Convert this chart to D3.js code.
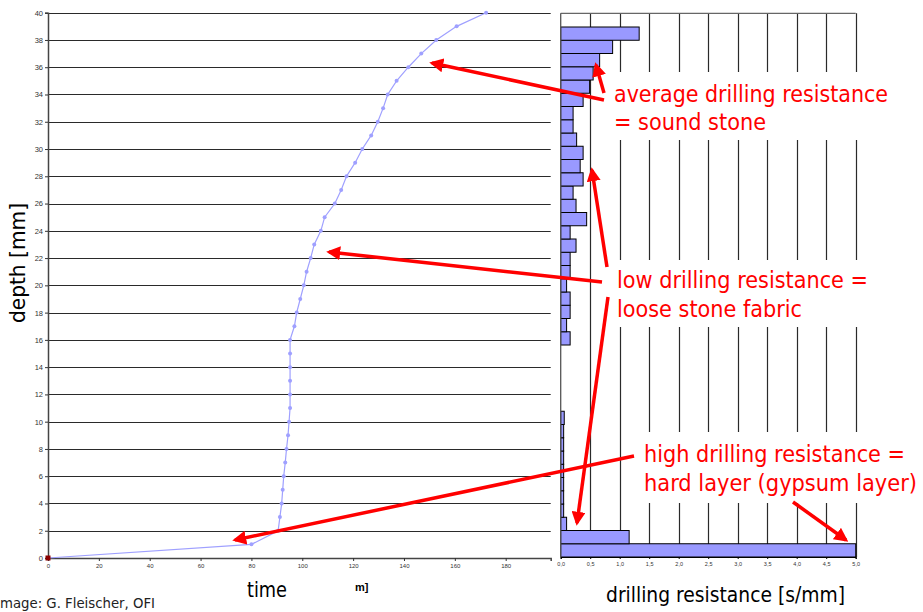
<!DOCTYPE html>
<html>
<head>
<meta charset="utf-8">
<script src="https://cdn.jsdelivr.net/npm/d3@7"></script>
<style>
  body { margin: 0; background: #fff; }
  svg { display: block; }
</style>
</head>
<body>
<div id="chart"></div>
<script>
// drilling time vs depth (left panel)
const lineDepth = [0, 1, 2, 3, 4, 5, 6, 7, 8, 9, 10, 11, 12, 13, 14, 15, 16, 17, 18, 19, 20,
  21, 22, 23, 24, 25, 26, 27, 28, 29, 30, 31, 32, 33, 34, 35, 36, 37, 38, 39, 40];
const lineTime = [0, 80, 90.5, 91.2, 91.9, 92.3, 92.7, 93.3, 93.8, 94.4, 94.8, 95.2, 95.2, 95.2,
  95.2, 95.2, 95.2, 96.9, 97.8, 99.2, 100.6, 101.7, 103.3, 104.7, 107.3, 108.8, 112.8, 115.3,
  117.4, 120.8, 123.6, 127.1, 129.7, 131.8, 133.6, 137.1, 141.7, 146.8, 152.7, 160.7, 172.3];

// drilling resistance per 1 mm bin (right panel), bin 0 = bottom
const barBins = [0, 1, 2, 3, 4, 5, 6, 7, 8, 9, 10, 11, 12, 13, 14, 15, 16, 17, 18, 19,
  20, 21, 22, 23, 24, 25, 26, 27, 28, 29, 30, 31, 32, 33, 34, 35, 36, 37, 38, 39];
const barValues = [5.0, 1.16, 0.10, 0.05, 0.05, 0.05, 0.05, 0.05, 0.05, 0.05, 0.06, 0, 0, 0, 0, 0,
  0.16, 0.10, 0.16, 0.16, 0.10, 0.16, 0.16, 0.26, 0.16, 0.44, 0.26, 0.21, 0.38, 0.33,
  0.38, 0.27, 0.21, 0.21, 0.38, 0.49, 0.55, 0.66, 0.88, 1.33];

const depthTicks = [0, 2, 4, 6, 8, 10, 12, 14, 16, 18, 20, 22, 24, 26, 28, 30, 32, 34, 36, 38, 40];
const timeTicks = [0, 20, 40, 60, 80, 100, 120, 140, 160, 180];
const resTicks = [0, 0.5, 1, 1.5, 2, 2.5, 3, 3.5, 4, 4.5, 5];

const notes = [
  ["average drilling resistance", "= sound stone"],
  ["low drilling resistance =", "loose stone fabric"],
  ["high drilling resistance =", "hard layer (gypsum layer)"]
];

const W = 923, H = 612;
const svg = d3.select("#chart").append("svg").attr("width", W).attr("height", H);

const y = d3.scaleLinear().domain([0, 40]).range([558, 12.7]);
const x = d3.scaleLinear().domain([0, 197.7]).range([48, 550.7]);
const xr = d3.scaleLinear().domain([0, 5]).range([560.7, 855.7]);
const yb = d3.scaleBand().domain(barBins).range([557, 27]).padding(0);

const gridCol = "#2a2a2a";
const tickFont = "'Liberation Sans', Arial, sans-serif";

// left panel grid
svg.append("g")
  .selectAll("line")
  .data(depthTicks)
  .join("line")
  .attr("x1", x(0)).attr("x2", x.range()[1])
  .attr("y1", (d) => Math.round(y(d)) + 0.5).attr("y2", (d) => Math.round(y(d)) + 0.5)
  .attr("stroke", gridCol).attr("stroke-width", 1.2);

// left axis
const yAxis = svg.append("g")
  .attr("transform", `translate(${x(0)},0)`)
  .call(d3.axisLeft(y).tickValues(depthTicks).tickSize(3).tickPadding(2))
  .call((g) => g.select(".domain").attr("stroke", "#444").attr("stroke-width", 1.5));
yAxis.selectAll("text").attr("font-size", 7.5).attr("fill", "#333").attr("font-family", tickFont);
yAxis.selectAll(".tick line").attr("stroke", "#333");

const xAxis = svg.append("g")
  .attr("transform", `translate(0,${y(0)})`)
  .call(d3.axisBottom(x).tickValues(timeTicks).tickSize(3).tickPadding(3))
  .call((g) => g.select(".domain").attr("stroke", "#444").attr("stroke-width", 1.5));
xAxis.selectAll("text").attr("font-size", 6).attr("fill", "#333").attr("font-family", tickFont);
xAxis.selectAll(".tick line").attr("stroke", "#333");

// time curve
const lineData = lineDepth.map((d, i) => [lineTime[i], d]);
svg.append("path")
  .datum(lineData)
  .attr("fill", "none")
  .attr("stroke", "#9fa0ff")
  .attr("stroke-width", 1.2)
  .attr("d", d3.line().x((d) => x(d[0])).y((d) => y(d[1])));

svg.append("g")
  .selectAll("circle")
  .data(lineData.slice(1))
  .join("circle")
  .attr("cx", (d) => x(d[0])).attr("cy", (d) => y(d[1]))
  .attr("r", 2)
  .attr("fill", "#9fa0ff");

svg.append("rect")
  .attr("x", x(0) - 2.5).attr("y", y(0) - 2.5)
  .attr("width", 5).attr("height", 5)
  .attr("fill", "#8b0000");

// right panel
svg.append("g")
  .selectAll("line")
  .data(resTicks.slice(1))
  .join("line")
  .attr("x1", (d) => Math.round(xr(d)) + 0.5).attr("x2", (d) => Math.round(xr(d)) + 0.5)
  .attr("y1", 13.3).attr("y2", 557)
  .attr("stroke", gridCol).attr("stroke-width", 1.2);

svg.append("line")
  .attr("x1", xr(0)).attr("x2", xr(5))
  .attr("y1", 13.3).attr("y2", 13.3)
  .attr("stroke", "#666").attr("stroke-width", 1.2);

svg.append("g")
  .selectAll("rect")
  .data(barBins.filter((b) => barValues[b] > 0))
  .join("rect")
  .attr("x", xr(0))
  .attr("y", (b) => yb(b))
  .attr("width", (b) => xr(barValues[b]) - xr(0))
  .attr("height", yb.bandwidth())
  .attr("fill", "#9999ff")
  .attr("stroke", "#000")
  .attr("stroke-width", 1);

svg.append("line")
  .attr("x1", xr(0)).attr("x2", xr(0))
  .attr("y1", 13.3).attr("y2", 557)
  .attr("stroke", "#555").attr("stroke-width", 1.3);

const rAxis = svg.append("g")
  .attr("transform", `translate(0,557)`)
  .call(d3.axisBottom(xr).tickValues(resTicks).tickSize(2).tickPadding(3)
    .tickFormat((d) => d3.format(".1f")(d).replace(".", ",")))
  .call((g) => g.select(".domain").attr("stroke", "#000"));
rAxis.selectAll("text").attr("font-size", 5.5).attr("fill", "#333").attr("font-family", tickFont);

// annotation boxes (white, hide the grid)
const boxes = [[605, 72, 290, 68], [605, 260, 290, 67], [636, 432, 284, 71]];
svg.append("g")
  .selectAll("rect")
  .data(boxes)
  .join("rect")
  .attr("x", (d) => d[0]).attr("y", (d) => d[1])
  .attr("width", (d) => d[2]).attr("height", (d) => d[3])
  .attr("fill", "#fff");

// arrows
svg.append("defs").append("marker")
  .attr("id", "head")
  .attr("viewBox", "0 0 10 10")
  .attr("refX", 8).attr("refY", 5)
  .attr("markerWidth", 4).attr("markerHeight", 4)
  .attr("markerUnits", "strokeWidth")
  .attr("orient", "auto")
  .append("path")
  .attr("d", "M0,0L10,5L0,10z")
  .attr("fill", "#ff0000");

const arrows = [
  [604, 100, 432, 63], [604, 93, 596, 65],
  [602, 282, 329, 252], [607, 267, 592, 170], [608, 297, 577, 523],
  [634, 456, 235, 540], [793, 502, 846, 540]
];
svg.append("g")
  .selectAll("line")
  .data(arrows)
  .join("line")
  .attr("x1", (d) => d[0]).attr("y1", (d) => d[1])
  .attr("x2", (d) => d[2]).attr("y2", (d) => d[3])
  .attr("stroke", "#ff0000")
  .attr("stroke-width", 3.5)
  .attr("marker-end", "url(#head)");

// annotation text
const noteFont = "'DejaVu Sans Condensed', 'DejaVu Sans', Verdana, sans-serif";
const notePos = [
  [614, 101.5, 274, 152],
  [617, 288.3, 251, 185],
  [644, 462, 261, 273]
];
notes.forEach((lines, i) => {
  const [nx, ny, w1, w2] = notePos[i];
  [w1, w2].forEach((w, j) => {
    svg.append("text")
      .attr("x", nx).attr("y", ny + j * 28.8)
      .attr("font-family", noteFont)
      .attr("font-size", 23)
      .attr("fill", "#ff0000")
      .attr("textLength", w)
      .attr("lengthAdjust", "spacingAndGlyphs")
      .text(lines[j]);
  });
});

// axis titles
const titleFont = "'DejaVu Sans Condensed', 'DejaVu Sans', Verdana, sans-serif";
svg.append("text")
  .attr("transform", "translate(25,263) rotate(-90)")
  .attr("text-anchor", "middle")
  .attr("font-family", titleFont)
  .attr("font-size", 21)
  .attr("textLength", 120)
  .attr("lengthAdjust", "spacingAndGlyphs")
  .text("depth [mm]");

svg.append("text")
  .attr("x", 247).attr("y", 597)
  .attr("font-family", titleFont)
  .attr("font-size", 21)
  .attr("textLength", 40)
  .attr("lengthAdjust", "spacingAndGlyphs")
  .text("time");

svg.append("text")
  .attr("x", 355).attr("y", 591)
  .attr("font-family", tickFont)
  .attr("font-size", 11)
  .attr("font-weight", "bold")
  .text("m]");

svg.append("text")
  .attr("x", 606).attr("y", 601.5)
  .attr("font-family", titleFont)
  .attr("font-size", 21)
  .attr("textLength", 239)
  .attr("lengthAdjust", "spacingAndGlyphs")
  .text("drilling resistance [s/mm]");

svg.append("text")
  .attr("x", 0).attr("y", 608)
  .attr("font-family", titleFont)
  .attr("font-size", 14)
  .attr("textLength", 155)
  .attr("lengthAdjust", "spacingAndGlyphs")
  .attr("fill", "#222")
  .text("mage: G. Fleischer, OFI");
</script>
</body>
</html>
